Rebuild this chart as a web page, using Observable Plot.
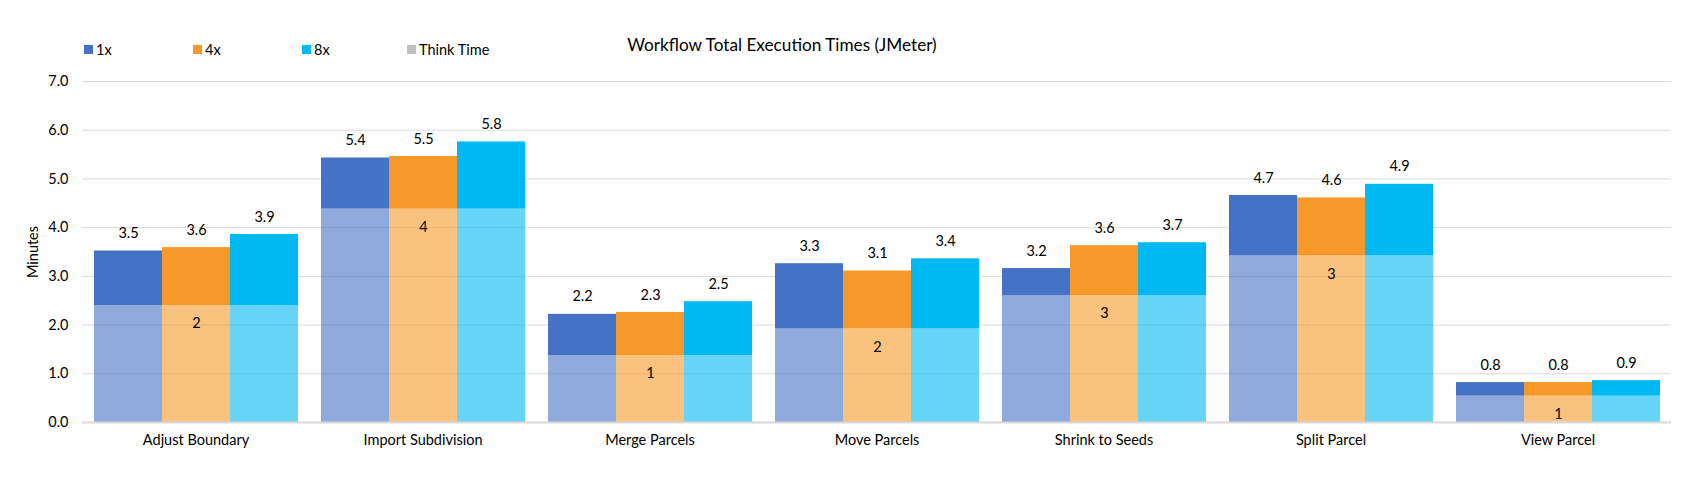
<!DOCTYPE html>
<html><head><meta charset="utf-8">
<script src="https://cdn.jsdelivr.net/npm/d3@7"></script>
<script src="https://cdn.jsdelivr.net/npm/@observablehq/plot@0.6"></script>
<style>
body{margin:0;background:#fff;font-family:Lato, sans-serif;color:#000;}
#header{position:relative;height:60px;width:1708px;}
#title{position:absolute;left:782px;top:34px;transform:translateX(-50%);font-size:17.2px;white-space:nowrap;}
.item{position:absolute;top:41px;font-size:14.5px;white-space:nowrap;display:flex;align-items:center;}
.sw{display:inline-block;width:9px;height:9px;margin-right:3px;}
</style></head><body>
<div id="header"><div id="title"></div></div>
<div id="chart"></div>
<script>
// ---- data ----
const categories = ["Adjust Boundary","Import Subdivision","Merge Parcels","Move Parcels","Shrink to Seeds","Split Parcel","View Parcel"];
const series = ["1x","4x","8x"];
const thinkTime = [2.40, 4.38, 1.37, 1.92, 2.60, 3.42, 0.54];
const total1x = [3.52, 5.43, 2.22, 3.26, 3.16, 4.66, 0.82];
const total4x = [3.59, 5.46, 2.26, 3.11, 3.63, 4.61, 0.82];
const total8x = [3.86, 5.76, 2.48, 3.36, 3.69, 4.89, 0.86];
const yTicks = [0, 1, 2, 3, 4, 5, 6, 7];
const legendLabels = ["1x", "4x", "8x", "Think Time"];
const title = "Workflow Total Execution Times (JMeter)";
const yLabel = "Minutes";

// ---- style ----
const seriesColors = ["#4472C4", "#F7992A", "#00B9F2"];
const thinkColor = "#BFBFBF";
const legendLeft = [84, 193, 302, 407];

document.getElementById("title").textContent = title;
const header = document.getElementById("header");
legendLabels.forEach((lab, i) => {
  const it = document.createElement("div");
  it.className = "item";
  it.style.left = legendLeft[i] + "px";
  const sw = document.createElement("span");
  sw.className = "sw";
  sw.style.background = i < series.length ? seriesColors[i] : thinkColor;
  it.appendChild(sw);
  it.appendChild(document.createTextNode(lab));
  header.appendChild(it);
});

const totals = [total1x, total4x, total8x];
const rows = [];
categories.forEach((c, i) => {
  series.forEach((s, j) => {
    rows.push({category: c, series: s, think: thinkTime[i], total: totals[j][i]});
  });
});

const f1 = d3.format(".1f"), f0 = d3.format(".0f");
const chart = Plot.plot({
  width: 1708, height: 428,
  marginTop: 21, marginBottom: 66, marginLeft: 81, marginRight: 36,
  style: {fontFamily: "Lato, sans-serif", fontSize: "14.5px", color: "#000", background: "#fff"},
  fx: {domain: categories, padding: 0, label: null, tickSize: 0, tickPadding: 12},
  x: {domain: series, paddingInner: 0, paddingOuter: 0.152, axis: null},
  y: {domain: [0, 7], ticks: yTicks, tickFormat: f1, tickSize: 0, tickPadding: 14,
      label: yLabel, labelAnchor: "center", labelOffset: 55, labelArrow: "none"},
  color: {domain: series, range: seriesColors},
  marks: [
    Plot.gridY(yTicks, {stroke: "#D9D9D9", strokeOpacity: 1}),
    Plot.barY(rows, {fx: "category", x: "series", y1: 0, y2: "think", fill: "series", fillOpacity: 0.6}),
    Plot.barY(rows, {fx: "category", x: "series", y1: "think", y2: "total", fill: "series"}),
    Plot.ruleY([0], {stroke: "#D9D9D9", strokeWidth: 2}),
    Plot.text(rows, {fx: "category", x: "series", y: "total", text: d => f1(d.total), dy: -17.5, fill: "#000"}),
    Plot.text(rows.filter(d => d.series === "4x"), {fx: "category", x: "series", y: "think", text: d => f0(d.think), dy: 18, fill: "#000"})
  ]
});
document.getElementById("chart").appendChild(chart);
</script>
</body></html>
